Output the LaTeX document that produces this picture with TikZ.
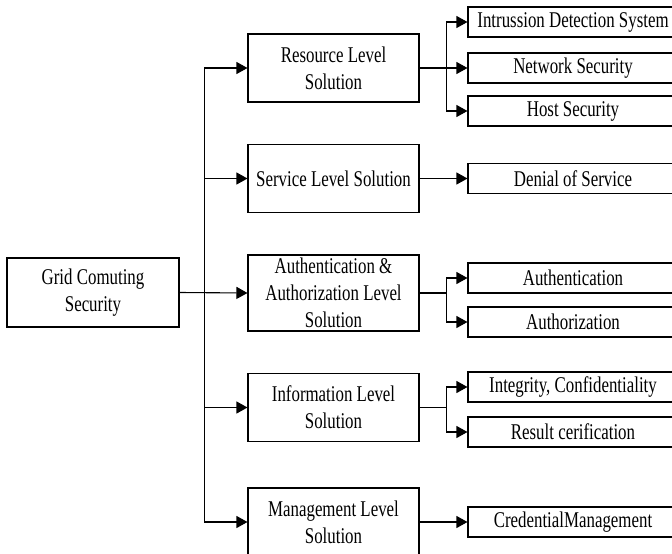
\documentclass[tikz,border=0pt]{standalone}
\usepackage{fontspec}
\setmainfont{Liberation Serif}[FakeStretch=0.75]
\usetikzlibrary{arrows.meta}
\tikzset{
  box/.style={draw, line width=1.1pt, inner sep=0pt, align=center,
    font=\fontsize{22.5}{27}\selectfont},
  level/.style={box, minimum width=171pt, minimum height=68pt},
  leaf/.style={box, minimum width=210pt, minimum height=30pt},
  link/.style={line width=1.1pt},
  arr/.style={link, -{Triangle[length=11pt,width=12pt]}}
}
\begin{document}
\begin{tikzpicture}[x=1pt,y=-1pt]
\useasboundingbox (0,0) rectangle (672,554);
\clip (0,0) rectangle (672,554);
% root
\node[box, minimum width=172pt, minimum height=69pt] (root) at (93,292.5) {Grid Comuting\\Security};
% level boxes
\node[level] (res) at (333.5,68) {Resource Level\\Solution};
\node[level] (svc) at (333.5,178.5) {Service Level Solution};
\node[level, minimum height=76pt] (auth) at (333.5,293) {Authentication \&\\Authorization Level\\Solution};
\node[level] (info) at (333.5,407.5) {Information Level\\Solution};
\node[level] (mgmt) at (333.5,522) {Management Level\\Solution};
% leaf boxes
\node[leaf] (ids) at (573,22) {Intrussion Detection System};
\node[leaf] (net) at (573,68) {Network Security};
\node[leaf] (host) at (573,111) {Host Security};
\node[leaf] (dos) at (573,178.5) {Denial of Service};
\node[leaf] (authn) at (573,278) {Authentication};
\node[leaf] (authz) at (573,322) {Authorization};
\node[leaf] (integ) at (573,387) {Integrity, Confidentiality};
\node[leaf] (result) at (573,432) {Result cerification};
\node[leaf] (cred) at (573,522) {CredentialManagement};
% trunk connectors
\coordinate (trunk) at ([xshift=25pt]root.east);
\draw[arr] (root.east) -- (auth.west);
\draw[arr] (trunk) |- (res.west);
\draw[arr] (trunk) |- (svc.west);
\draw[arr] (trunk) |- (info.west);
\draw[arr] (trunk) |- (mgmt.west);
% resource branch
\coordinate (rb) at ([xshift=27pt]res.east);
\draw[arr] (res.east) -- (net.west);
\draw[arr] (rb) |- (ids.west);
\draw[arr] (rb) |- (host.west);
% service
\draw[arr] (svc.east) -- (dos.west);
% auth branch
\coordinate (ab) at ([xshift=27pt]auth.east);
\draw[link] (auth.east) -- (ab);
\draw[arr] (ab) |- (authn.west);
\draw[arr] (ab) |- (authz.west);
% info branch
\coordinate (ib) at ([xshift=27pt]info.east);
\draw[link] (info.east) -- (ib);
\draw[arr] (ib) |- (integ.west);
\draw[arr] (ib) |- (result.west);
% management
\draw[arr] (mgmt.east) -- (cred.west);
\end{tikzpicture}
\end{document}
